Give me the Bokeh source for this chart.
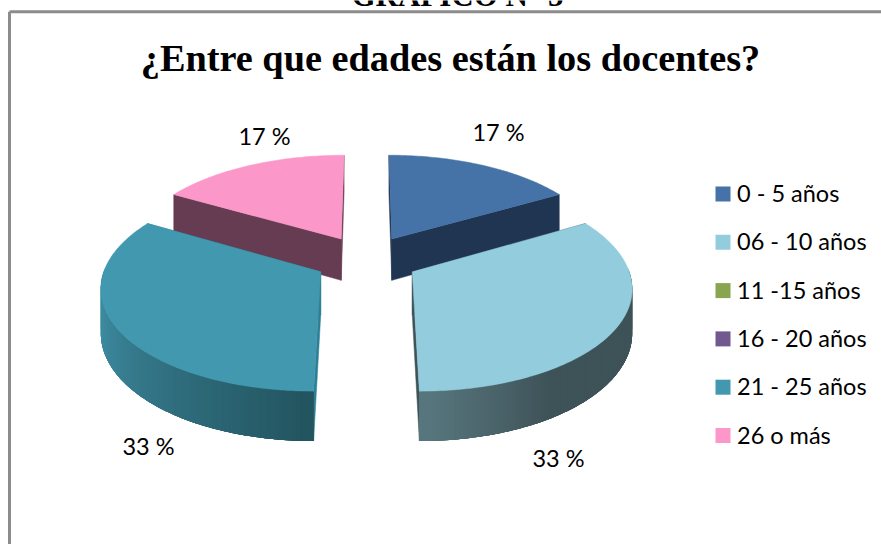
import math
from bokeh.plotting import figure
from bokeh.models import Range1d
from bokeh.core.properties import value
from bokeh.embed import file_html
from bokeh.resources import INLINE

categories = ["0 - 5 años", "06 - 10 años", "11 -15 años", "16 - 20 años", "21 - 25 años", "26 o más"]
counts = [1, 2, 0, 0, 2, 1]
pct_labels = ["17 %", "33 %", "", "", "33 %", "17 %"]
label_x = [498, 558, 0, 0, 148, 264]
label_y = [131, 457, 0, 0, 445, 135]
colors = ["#4572A7", "#93CDDD", "#89A54E", "#71588F", "#4198AF", "#FC97C9"]
inner_wall = ["#1F3552", "#3E5358", "#89A54E", "#71588F", "#2E7F95", "#663C52"]
title = "¿Entre que edades están los docentes?"
header = "GRAFICO N° 5"

# projection (layout constants)
CX, CY, R, E, P, G, D = 366.0, 259.0, 213.5, 52.0, 0.00062, 0.468, 42.5


def project(u, v):
    s = 1 / (1 + P * v)
    return CX + u * s, CY - G * v * s, D * s


def pt(t, r, ox, oy):
    a = math.radians(t)
    return project(ox + r * math.sin(a), oy + r * math.cos(a))


def mix(c1, c2, f):
    f = max(0.0, min(1.0, f))
    a = [int(c1[i:i + 2], 16) for i in (1, 3, 5)]
    b = [int(c2[i:i + 2], 16) for i in (1, 3, 5)]
    return "#%02x%02x%02x" % tuple(round(x + (y - x) * f) for x, y in zip(a, b))


p = figure(width=881, height=544, x_range=Range1d(0, 881), y_range=Range1d(544, 0),
           output_backend="svg", toolbar_location=None, x_axis_location=None, y_axis_location=None,
           min_border=0)
p.grid.visible = False
p.outline_line_color = None
p.background_fill_color = "white"
p.border_fill_color = "white"

# frame
p.line([9, 9], [544, 11.3], line_color="#8C8C8C", line_width=3)
p.line([9, 881], [11.3, 11.3], line_color="#8C8C8C", line_width=3)

serif = value("Liberation Serif")
sans = value("Lato")
p.text([457], [-5], text=[header], text_font=serif, text_font_size="31px", text_font_style="bold",
       text_align="center", text_baseline="middle", text_color="#000000")
p.text([450], [57], text=[title], text_font=serif, text_font_size="38.3px", text_font_style="bold",
       text_align="center", text_baseline="middle", text_color="#000000")

total = sum(counts)
start = 0.0
slices = []
for i, c in enumerate(counts):
    sweep = 360.0 * c / total
    if c:
        slices.append((i, start, start + sweep))
    start += sweep

# back slices first
slices.sort(key=lambda s: -math.cos(math.radians((s[1] + s[2]) / 2)))

for i, t0, t1 in slices:
    mid = math.radians((t0 + t1) / 2)
    ox, oy = E * math.sin(mid), E * math.cos(mid)
    ax, ay, ad = project(ox, oy)
    n = int(t1 - t0)
    ts = [t0 + (t1 - t0) * k / n for k in range(n + 1)]
    arc = [pt(t, R, ox, oy) for t in ts]
    # straight inner walls
    for edge in (arc[0], arc[-1]):
        p.patch([ax, edge[0], edge[0], ax], [ay, edge[1], edge[1] + edge[2], ay + ad],
                fill_color=inner_wall[i], line_color=inner_wall[i], line_width=0.5)
    # curved wall, shaded; each strip runs on under the next so no seams show
    order = [k for k in range(n) if 90 <= (ts[k] + ts[k + 1]) / 2 <= 270]
    if order and ts[order[0]] >= 180:
        order = order[::-1]
    for k in order:
        j0, j1 = max(k - 2, 0), min(k + 3, n)
        a_span = arc[j0:j1 + 1]
        tm = (ts[k] + ts[k + 1]) / 2
        if tm > 180:
            col = mix("#235560", "#3E8BA1", (tm - 180) / 72)
        else:
            col = mix("#3E5358", "#57767D", (tm - 150) / 30)
        p.patch([a[0] for a in a_span] + [a[0] for a in a_span[::-1]],
                [a[1] for a in a_span] + [a[1] + a[2] for a in a_span[::-1]],
                fill_color=col, line_color=None)
    # top face
    p.patch([ax] + [a[0] for a in arc], [ay] + [a[1] for a in arc],
            fill_color=colors[i], line_color=colors[i], line_width=0.5)

# data labels
for lab, x, y in zip(pct_labels, label_x, label_y):
    if lab:
        p.text([x], [y], text=[lab], text_font=sans, text_font_size="23.5px",
               text_align="center", text_baseline="middle", text_color="#000000")

# legend
legend_top, legend_step = 193.5, 48.3
for k, (cat, col) in enumerate(zip(categories, colors)):
    y = legend_top + k * legend_step
    p.rect([722.5], [y], width=15, height=15, fill_color=col, line_color=None)
    p.text([736.5], [y - 1], text=[cat], text_font=sans, text_font_size="23.5px",
           text_align="left", text_baseline="middle", text_color="#000000")

open("out.html", "w").write(file_html(p, INLINE))
